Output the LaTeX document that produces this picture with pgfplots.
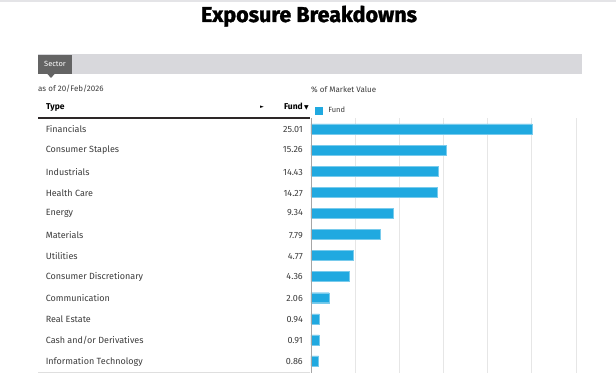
\documentclass[border=0pt]{standalone}
\usepackage{pgfplots}
\pgfplotsset{compat=1.18}
\usepackage{pgfplotstable}
\usepackage{fontspec}
\setmainfont{Fira Sans}
\newfontfamily\titlefont{Fira Sans}[BoldFeatures={FakeBold=1.5}]
\newfontfamily\symfont{DejaVu Sans}
\definecolor{barblue}{RGB}{32,169,224}
\definecolor{txt}{RGB}{60,60,60}
\definecolor{strip}{RGB}{216,216,220}
\definecolor{tabc}{RGB}{100,100,100}
\definecolor{gridc}{RGB}{230,230,230}
\definecolor{rule}{RGB}{45,40,40}
\pgfplotstableread{
idx value
0 25.01
1 15.26
2 14.43
3 14.27
4 9.34
5 7.79
6 4.77
7 4.36
8 2.06
9 0.94
10 0.91
11 0.86
}\sectordata
\newcommand{\row}[2]{\makebox[257pt][s]{#1\hfill #2}}
\begin{document}
\begin{tikzpicture}[x=1pt,y=1pt]
\path[use as bounding box, fill=white] (0,0) rectangle (616,373);
\fill[strip!70] (0,371) rectangle (616,373);
\node[font=\titlefont\fontsize{21.5}{24}\selectfont\bfseries, anchor=base, text=black] at (309,351) {Exposure Breakdowns};
\fill[strip] (38,299) rectangle (582,319);
\fill[tabc] (38,299) rectangle (72,318);
\fill[tabc] (47,299.5) -- (55,299.5) -- (51,295) -- cycle;
\node[text=white, font=\fontsize{7.5}{9}\selectfont] at (55,309) {Sector};
\node[anchor=west, inner sep=0pt, text=txt, font=\fontsize{8}{9}\selectfont] at (38,284) {as of 20/Feb/2026};
\node[anchor=west, inner sep=0pt, text=txt, font=\fontsize{8}{9}\selectfont] at (311,283) {\% of Market Value};
\node[anchor=west, inner sep=0pt, text=black, font=\fontsize{8.5}{10}\selectfont\bfseries] at (46,265.5) {Type};
\node[inner sep=0pt, text=black, font=\fontsize{5}{6}\selectfont] at (262,266) {\symfont ►};
\node[anchor=east, inner sep=0pt, text=black, font=\fontsize{8.5}{10}\selectfont\bfseries] at (309,266) {Fund\,{\symfont\fontsize{6}{7}\selectfont ▼}};
\draw[line width=1.3pt, rule] (38,255) -- (310,255);
\draw[gray!25, line width=0.8pt] (38,1) -- (310,1);
\begin{axis}[
  at={(311pt,0pt)}, anchor=south west,
  scale only axis, width=265pt, height=255pt,
  xmin=0, xmax=30, ymin=-0.52, ymax=11.57,
  y dir=reverse,
  xbar, bar width=10pt,
  axis line style={draw=none},
  tick style={draw=none},
  major tick length=0pt,
  xtick={0,5,...,30}, xticklabels={},
  xmajorgrids, grid style={gridc, line width=0.7pt},
  ytick={0,...,11},
  yticklabels={
    {\row{Financials}{25.01}},
    {\row{Consumer Staples}{15.26}},
    {\row{Industrials}{14.43}},
    {\row{Health Care}{14.27}},
    {\row{Energy}{9.34}},
    {\row{Materials}{7.79}},
    {\row{Utilities}{4.77}},
    {\row{Consumer Discretionary}{4.36}},
    {\row{Communication}{2.06}},
    {\row{Real Estate}{0.94}},
    {\row{Cash and/or Derivatives}{0.91}},
    {\row{Information Technology}{0.86}}
  },
  yticklabel style={anchor=east, inner sep=0pt, xshift=-8pt, yshift=-0.5pt, text=txt, font=\fontsize{9}{10}\selectfont},
  legend style={at={(axis cs:0,-0.52)}, anchor=south west, draw=none, fill=none,
    inner sep=0pt, xshift=4pt, yshift=2pt, font=\fontsize{7.5}{9}\selectfont, text=txt},
  legend image code/.code={\fill[barblue] (0pt,-3.5pt) rectangle (7pt,3.5pt); \path[draw=none, fill=none] (0pt,0pt) rectangle (11pt,0.1pt);},
]
\addplot[fill=barblue, draw=barblue!60!white, line width=0.4pt] table[x=value, y=idx] {\sectordata};
\addlegendentry{Fund}
\draw[gray!70, line width=0.6pt] (axis cs:0,-0.52) -- (axis cs:0,11.57);
\end{axis}
\end{tikzpicture}
\end{document}
